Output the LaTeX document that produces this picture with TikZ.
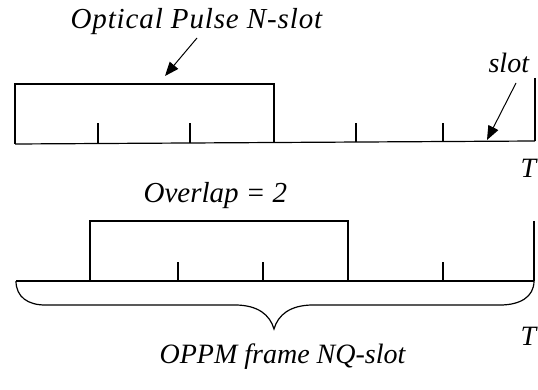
\documentclass[tikz,border=0pt]{standalone}
\usepackage{fontspec}
\setmainfont{Liberation Serif}
\usetikzlibrary{arrows.meta}
\begin{document}
\begin{tikzpicture}[x=1pt,y=-1pt,line width=1.2pt,line join=miter,
  lbl/.style={font=\fontsize{28}{30}\selectfont\itshape,inner sep=0pt},
  widelbl/.style={font=\fontsize{29}{31}\selectfont\itshape\addfontfeature{LetterSpace=3},inner sep=0pt},
  pointer/.style={-{Triangle[length=14pt,width=11pt]},line width=1pt}]
\useasboundingbox (0,0) rectangle (538,390);
% labels
\node[widelbl,anchor=base west] (pulse) at (70,29) {Optical Pulse N-slot};
\node[lbl,anchor=base west] (slot) at (488,73) {slot};
\node[lbl,anchor=base west] (T1) at (520,178) {T};
\node[lbl,anchor=base west,font=\fontsize{29}{31}\selectfont\itshape] (ovl) at (143,203) {Overlap = 2};
\node[lbl,anchor=base west] (T2) at (520,345) {T};
\node[lbl,anchor=base west] (frame) at (159,363) {OPPM frame NQ-slot};
% upper frame
\draw (15,144) -- (535,141);
\draw (15,144) -- (15,84) -- (274,84) -- (274,142.5);
\foreach \x/\y in {98/143.5,190/143,356/142,443/141.5} \draw (\x,\y) -- (\x,123);
\draw (535,78) -- (535,141);
% pointers
\coordinate (ptail) at (197,38);
\coordinate (ptip) at (165,76);
\draw[pointer] (ptail) -- (ptip);
\coordinate (stail) at (516,83);
\coordinate (stip) at (487,140);
\draw[pointer] (stail) -- (stip);
% lower frame
\draw (16,281) -- (534,281);
\draw (90,281) -- (90,221) -- (348,221) -- (348,281);
\foreach \x in {178,263,443} \draw (\x,281) -- (\x,262);
\draw (534,221) -- (534,281);
% brace
\draw (16,281) .. controls (16,297) and (28,305) .. (45,305) -- (235,305)
  .. controls (258,305) and (270,315) .. (274,329)
  .. controls (278,315) and (290,305) .. (313,305) -- (500,305)
  .. controls (520,305) and (534,297) .. (534,281);
\end{tikzpicture}
\end{document}
